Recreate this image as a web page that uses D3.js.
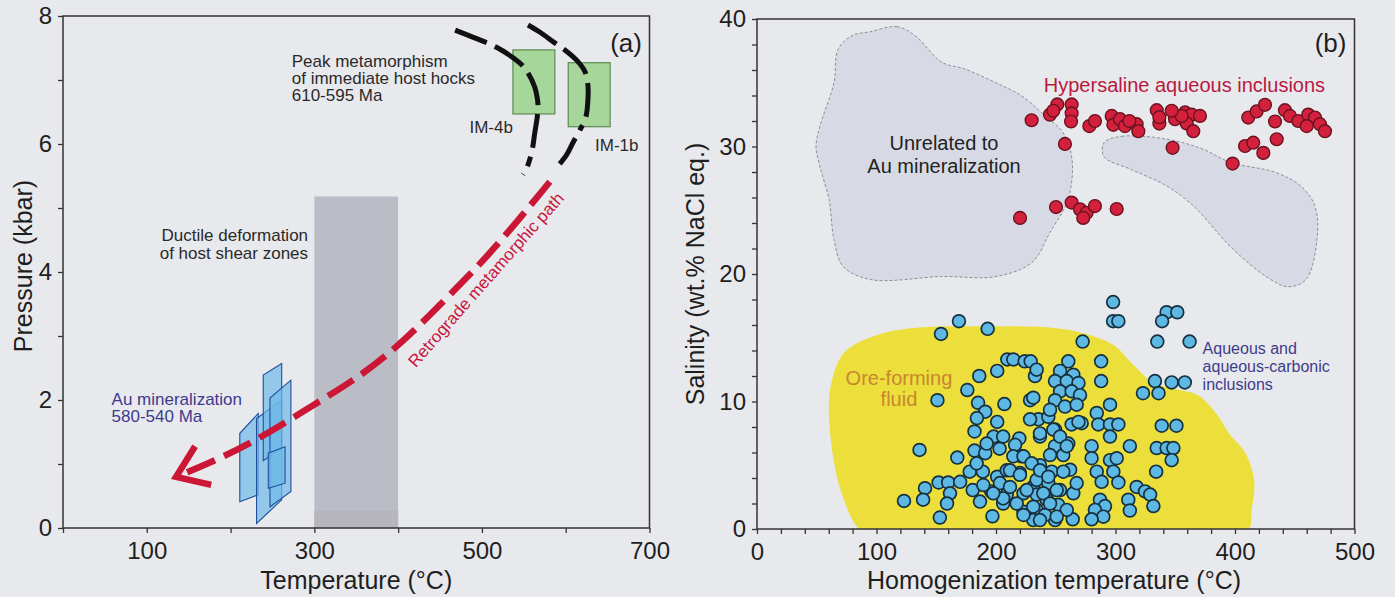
<!DOCTYPE html>
<html>
<head>
<meta charset="utf-8">
<script src="https://cdn.jsdelivr.net/npm/d3@7"></script>
<style>
  html, body { margin: 0; padding: 0; background: #e8e9ed; }
  svg { display: block; }
  text { font-family: "Liberation Sans", Arial, Helvetica, sans-serif; }
</style>
</head>
<body>
<svg id="fig" width="1395" height="597"></svg>
<script>
// ---------- Panel (a): P–T path ----------
const aLabelsX = [100, 300, 500, 700];
const aLabelsY = [0, 2, 4, 6, 8];

// ductile deformation window (°C, kbar)
const ductileT = [300, 400];
const ductileP = [0, 5.18];

// peak metamorphism boxes: [name, Tmin, Tmax, Pmin, Pmax]
const peakBoxes = [
  ["IM-4b", 537, 587, 6.47, 7.47],
  ["IM-1b", 603, 653, 6.27, 7.27]
];

// retrograde isobaric cooling curves through the peak boxes
const curveIM4b = [[468,7.78],[489,7.67],[506,7.58],[519,7.5],[536,7.36],[548,7.23],[555,7.11],[563,6.89],[566,6.72],[567,6.58],[566,6.42],[563,6.17],[560,5.91],[554,5.64],[549,5.52]];
const curveIM1b = [[555,7.86],[569,7.75],[587,7.58],[599,7.47],[613,7.31],[623,7.13],[626.5,6.92],[626.5,6.69],[624,6.42],[617,6.22],[608.6,6.02],[601,5.83],[591,5.66]];

// retrograde metamorphic path (°C, kbar)
const retroPath = [[581,5.41],[536,4.69],[495,4.08],[450,3.49],[404.5,2.89],[355,2.37],[300,1.93],[240,1.44],[190,1.1],[135,0.80]];

// Au mineralization P–T fields (parallelograms)
const auFields = [
  [[211,0.41],[211,1.48],[233,1.79],[233,0.52]],
  [[231,0.07],[231,1.71],[261,2.0],[261,0.44]],
  [[239,1.05],[239,2.39],[261,2.57],[261,1.25]],
  [[247,0.33],[247,2.03],[272,2.31],[272,0.57]],
  [[245,0.62],[245,1.17],[265,1.27],[265,0.70]]
];

// ---------- Panel (b): fluid inclusion data ----------
const bLabelsX = [0, 100, 200, 300, 400, 500];
const bLabelsY = [0, 10, 20, 30, 40];

// aqueous and aqueous-carbonic inclusions: [Th °C, salinity wt.% NaCl eq.]
const aqueousTh = [
  169,154,193,186,201,209.5,214.5,224,229,176,151,185,207,228.5,191,184,201,182,198,206,219.5,136,167.6,182,191,203,216,221.5,
  178,189,201,209,220,152,140.6,160,170,161.5,180.5,196,209,223,123,139,159,186.6,206,153,197,223,231,231,232.6,
  298,298,302.4,342.8,351.7,339,335,362,272.5,288,288,333,347,358,323,336,295.4,284.3,285.6,295.4,302.4,295.4,271.7,263.3,
  312,338.7,351,280,280,295.4,301,334.5,342.8,348.4,347,284.3,298.2,288.4,302.4,334,317.7,324.7,329,331.7,310.7,312,287,
  291.2,282.8,289.8,280,264.2,249.4,264.7,267.5,262,260.5,269,249.4,249.4,236.8,235.4,243.8,
  260.5,253.6,264.7,249.4,259.2,269,253.6,263.3,270.3,249.4,257.7,267.5,245.2,234,231.2,228.5,
  245.2,256.3,236.8,246.6,256.3,234,243.8,253.6,234,242.4,252,234,241,259.2,231.2,
  214.5,223,229.8,211.7,220,236.8,243.8,203.3,211.7,225.7,239.6,250.8,206,217.3,231.2,245.2,223,236.8,250.8,197.7,189.4,183.8,192.2,236.8,248,253.6,259.2
];
const aqueousSal = [
  16.3,15.3,15.7,12.0,12.4,13.3,13.3,13.15,13.15,10.9,10.1,9.9,9.8,10.1,9.2,8.7,8.4,7.65,7.25,7.25,7.1,6.2,5.6,6.15,5.95,6.3,6.6,5.7,
  4.5,4.5,4.1,4.6,4.4,3.65,3.2,3.65,3.7,2.8,3.05,2.95,2.7,2.8,2.2,2.3,2.0,2.15,2.0,0.9,1.0,1.35,0.97,3.3,12.0,
  17.8,16.3,16.3,17.0,17.0,16.3,14.7,14.7,14.7,13.15,11.6,11.6,11.5,11.5,10.65,10.65,9.75,9.1,8.2,8.2,8.2,7.25,8.3,8.2,
  6.5,8.1,8.1,6.5,5.55,5.4,5.55,6.35,6.35,6.35,5.4,4.5,4.5,3.7,3.65,4.5,3.3,2.95,2.7,1.8,2.3,1.45,2.3,
  1.8,1.5,0.97,0.76,0.76,0.7,2.8,3.6,4.65,6.7,8.4,7.8,6.5,7.25,8.6,8.8,
  13.15,12.4,12.1,11.6,11.6,11.45,10.8,10.8,10.5,10.1,9.6,9.75,9.35,12.5,10.3,8.6,
  5.8,5.8,5.0,4.5,4.5,3.85,3.6,3.05,2.7,2.3,1.9,1.5,1.1,1.5,0.7,
  5.7,5.7,5.15,4.6,4.25,4.6,4.1,3.6,3.3,3.05,2.8,3.05,2.4,2.0,1.75,2.0,1.1,0.7,0.97,2.8,3.45,5.15,6.7,7.5,7.8,7.25,6.5
];

// hypersaline aqueous inclusions
const hyperTh = [
  229.8,245.2,251.3,248,263.3,263.3,262.8,257.7,278.1,282.8,296.8,298.2,303.8,307.9,317.7,319.1,334.5,336.7,347.8,349.8,
  358.2,363.7,370.7,359.6,365.1,355.4,398,411.1,418.1,425.1,408.4,415.3,423.7,434.9,433.5,441.8,446,453,461.3,466.9,
  460,471.1,475.3,220.1,250.2,263.3,270.3,275.9,282.8,273,301,347,336.7,311.6
];
const hyperSal = [
  32.06,32.5,33.3,32.8,33.3,32.6,31.96,30.2,31.6,32.0,32.4,31.7,32.14,31.6,31.75,31.2,32.85,31.8,29.9,32.14,
  32.67,32.5,32.4,31.8,31.2,32.4,28.66,32.27,32.75,33.27,30.04,30.3,29.5,30.57,31.96,32.85,32.4,32.0,32.5,32.27,
  31.6,31.75,31.2,24.4,25.25,25.6,25.07,24.8,25.33,24.4,25.1,32.8,32.3,32.0
];

// outlines of fluid fields (Th °C, salinity)
const oreFluidField = [[92.6,-0.5],[72,2.5],[60.3,8.6],[62.8,11.7],[73.6,13.9],[102,15.25],[135.6,15.8],[185,15.9],[245,15.8],[271,15.4],[298,14.46],[314.6,12.9],[331.4,11.5],[354,10.9],[369,10.5],[384,9.1],[395,7.5],[408.4,6.0],[416,3.85],[414.2,1.7],[408.4,-0.5],[250,-0.8]];
const unrelatedField1 = [[94.6,39.0],[117.2,39.4],[132.2,38.7],[154.8,36.6],[173.2,36.1],[200,35.0],[222.6,33.9],[241,32.4],[256,31.1],[263.6,29.0],[260.3,25.85],[245.2,23.26],[230,20.9],[200,19.8],[154.8,19.8],[94.6,19.57],[72,20.6],[64.4,22.7],[60.3,25.85],[52.7,28.4],[49.4,30.0],[52.7,31.6],[64.4,35.0],[67.8,37.6],[79.5,38.7]];
const unrelatedField2 = [[290.4,30.3],[305.4,30.8],[343,30.57],[373,29.8],[396,28.76],[433.5,27.98],[455,26.9],[467,25.3],[468.6,22.7],[459.4,19.57],[444.4,19.0],[426,19.8],[396,22.16],[365.7,25.3],[343,26.9],[313,28.2],[290.4,29.2]];

// ---------- layout ----------
const svg = d3.select("#fig");
const xA = d3.scaleLinear().domain([0, 700]).range([63, 649.5]);
const yA = d3.scaleLinear().domain([0, 8]).range([528, 16]);
const xB = d3.scaleLinear().domain([0, 500]).range([757, 1354.5]);
const yB = d3.scaleLinear().domain([0, 40]).range([529, 19]);

const defs = svg.append("defs");
defs.append("clipPath").attr("id", "clipA").append("rect")
  .attr("x", xA(0)).attr("y", yA(8)).attr("width", xA(700) - xA(0)).attr("height", yA(0) - yA(8));
defs.append("clipPath").attr("id", "clipB").append("rect")
  .attr("x", xB(0)).attr("y", yB(40)).attr("width", xB(500) - xB(0)).attr("height", yB(0) - yB(40));

function axes(g, x, y, xTicks, xLabels, yTicks, yLabels) {
  const gx = g.append("g").attr("transform", `translate(0,${y.range()[0]})`)
    .call(d3.axisBottom(x).tickValues(xTicks).tickSize(5).tickPadding(9)
      .tickFormat(d => xLabels.includes(d) ? d : ""));
  const gy = g.append("g").attr("transform", `translate(${x.range()[0]},0)`)
    .call(d3.axisLeft(y).tickValues(yTicks).tickSize(5).tickPadding(6)
      .tickFormat(d => yLabels.includes(d) ? d : ""));
  [gx, gy].forEach(a => {
    a.select(".domain").remove();
    a.selectAll(".tick line").attr("stroke", "#333").attr("stroke-width", 1.3);
    a.selectAll(".tick text").attr("fill", "#1e1e1e").attr("font-size", 24)
      .attr("font-family", "'Liberation Sans', Arial, sans-serif");
  });
  g.append("rect")
    .attr("x", x.range()[0]).attr("y", y.range()[1])
    .attr("width", x.range()[1] - x.range()[0]).attr("height", y.range()[0] - y.range()[1])
    .attr("fill", "none").attr("stroke", "#333").attr("stroke-width", 1.5);
}

// ================= Panel (a) =================
const gA = svg.append("g");
const plotA = gA.append("g").attr("clip-path", "url(#clipA)");

plotA.append("rect")
  .attr("x", xA(ductileT[0])).attr("y", yA(ductileP[1]))
  .attr("width", xA(ductileT[1]) - xA(ductileT[0])).attr("height", yA(ductileP[0]) - yA(ductileP[1]))
  .attr("fill", "#babdc5");
plotA.append("rect")
  .attr("x", xA(ductileT[0])).attr("y", yA(0.27))
  .attr("width", xA(ductileT[1]) - xA(ductileT[0])).attr("height", yA(0) - yA(0.27))
  .attr("fill", "#b7b6be");

plotA.selectAll("rect.peak").data(peakBoxes).join("rect").attr("class", "peak")
  .attr("x", d => xA(d[1])).attr("y", d => yA(d[4]))
  .attr("width", d => xA(d[2]) - xA(d[1])).attr("height", d => yA(d[3]) - yA(d[4]))
  .attr("fill", "#a7d69b").attr("stroke", "#5b8a52").attr("stroke-width", 1.2);

const lineA = d3.line().x(d => xA(d[0])).y(d => yA(d[1])).curve(d3.curveCatmullRom);
plotA.append("path").attr("d", lineA(curveIM4b))
  .attr("fill", "none").attr("stroke", "#111").attr("stroke-width", 5)
  .attr("stroke-dasharray", "34,9,34,9,34,9,34,9,10,9");
plotA.append("path").attr("d", lineA(curveIM1b))
  .attr("fill", "none").attr("stroke", "#111").attr("stroke-width", 5)
  .attr("stroke-dasharray", "34,9,34,9,34,9,6,9,30,9,5,9");

plotA.selectAll("path.au").data(auFields).join("path").attr("class", "au")
  .attr("d", d => "M" + d.map(p => [xA(p[0]), yA(p[1])].join(",")).join("L") + "Z")
  .attr("fill", "#6fb9e8").attr("fill-opacity", 0.7)
  .attr("stroke", "#1f4f9c").attr("stroke-width", 1.1);

const smoothA = d3.line().x(d => xA(d[0])).y(d => yA(d[1])).curve(d3.curveBasis);
plotA.append("path").attr("d", smoothA(retroPath))
  .attr("fill", "none").attr("stroke", "#cc1636").attr("stroke-width", 6.5)
  .attr("stroke-dasharray", "30,10");

// arrow head at the low-temperature end
{
  const n = retroPath.length;
  const tip = [xA(retroPath[n - 1][0]), yA(retroPath[n - 1][1])];
  const prev = [xA(retroPath[n - 2][0]), yA(retroPath[n - 2][1])];
  const back = Math.atan2(prev[1] - tip[1], prev[0] - tip[0]);
  const len = 36, spread = 0.62;
  const p1 = [tip[0] + len * Math.cos(back - spread), tip[1] + len * Math.sin(back - spread)];
  const p2 = [tip[0] + len * Math.cos(back + spread), tip[1] + len * Math.sin(back + spread)];
  plotA.append("path").attr("d", `M${p1}L${tip}L${p2}`)
    .attr("fill", "none").attr("stroke", "#cc1636").attr("stroke-width", 6.5)
    .attr("stroke-linejoin", "miter");
}

axes(gA, xA, yA, d3.range(0, 701, 100), aLabelsX, d3.range(0, 9, 1), aLabelsY);

// annotations (a)
function multiline(g, x, y, lines, opts) {
  const t = g.append("text").attr("x", x).attr("y", y)
    .attr("font-size", opts.size).attr("fill", opts.color)
    .attr("text-anchor", opts.anchor || "start");
  lines.forEach((s, i) => t.append("tspan").attr("x", x).attr("dy", i ? opts.lh : 0).text(s));
  return t;
}
multiline(gA, xA(273), yA(7.2), ["Peak metamorphism", "of immediate host hocks", "610-595 Ma"],
  { size: 17, color: "#2a2a2a", lh: 17 });
gA.append("text").attr("x", xA(537)).attr("y", yA(6.17)).attr("text-anchor", "end")
  .attr("font-size", 17).attr("fill", "#2a2a2a").text("IM-4b");
gA.append("text").attr("x", xA(635)).attr("y", yA(5.89))
  .attr("font-size", 17).attr("fill", "#2a2a2a").text("IM-1b");
gA.append("text").attr("x", xA(672)).attr("y", yA(7.44)).attr("text-anchor", "middle")
  .attr("font-size", 26).attr("fill", "#1e1e1e").text("(a)");
multiline(gA, xA(292.5), yA(4.48), ["Ductile deformation", "of host shear zones"],
  { size: 17, color: "#2a2a2a", lh: 18, anchor: "end" });
multiline(gA, xA(58), yA(1.92), ["Au mineralization", "580-540 Ma"],
  { size: 17, color: "#3c3a8e", lh: 17 });
gA.append("text")
  .attr("transform", `translate(${xA(510)},${yA(3.82)}) rotate(-48.6)`)
  .attr("text-anchor", "middle").attr("font-size", 17).attr("fill", "#c8143a")
  .text("Retrograde metamorphic path");

gA.append("text").attr("x", (xA(0) + xA(700)) / 2 + 0).attr("y", 589)
  .attr("text-anchor", "middle").attr("font-size", 25).attr("fill", "#1e1e1e")
  .text("Temperature (°C)");
gA.append("text").attr("transform", `translate(32,${(yA(0) + yA(8)) / 2 - 6}) rotate(-90)`)
  .attr("text-anchor", "middle").attr("font-size", 25).attr("fill", "#1e1e1e")
  .text("Pressure (kbar)");

// ================= Panel (b) =================
const gB = svg.append("g");
const plotB = gB.append("g").attr("clip-path", "url(#clipB)");
const areaB = d3.line().x(d => xB(d[0])).y(d => yB(d[1])).curve(d3.curveCatmullRomClosed);

[unrelatedField1, unrelatedField2].forEach(f => {
  plotB.append("path").attr("d", areaB(f))
    .attr("fill", "#d7dae4").attr("stroke", "#8c8e94").attr("stroke-width", 1)
    .attr("stroke-dasharray", "3,2");
});
plotB.append("path").attr("d", areaB(oreFluidField)).attr("fill", "#ecdf3c");

const hyper = hyperTh.map((t, i) => [t, hyperSal[i]]);
plotB.selectAll("circle.hyper").data(hyper).join("circle").attr("class", "hyper")
  .attr("cx", d => xB(d[0])).attr("cy", d => yB(d[1])).attr("r", 6.4)
  .attr("fill", "#d3203c").attr("stroke", "#6b1220").attr("stroke-width", 1.4);

const aqueous = aqueousTh.map((t, i) => [t, aqueousSal[i]]);
plotB.selectAll("circle.aq").data(aqueous).join("circle").attr("class", "aq")
  .attr("cx", d => xB(d[0])).attr("cy", d => yB(d[1])).attr("r", 6.4)
  .attr("fill", "#5db8e3").attr("stroke", "#16303f").attr("stroke-width", 1.7);

axes(gB, xB, yB, d3.range(0, 501, 20), bLabelsX, d3.range(0, 41, 2), bLabelsY);

gB.append("text").attr("x", xB(480)).attr("y", yB(37.45)).attr("text-anchor", "middle")
  .attr("font-size", 26).attr("fill", "#1e1e1e").text("(b)");
gB.append("text").attr("x", xB(357.7)).attr("y", yB(34.27)).attr("text-anchor", "middle")
  .attr("font-size", 20).attr("fill", "#b81a3e").text("Hypersaline aqueous inclusions");
multiline(gB, xB(156.5), yB(29.7), ["Unrelated to", "Au mineralization"],
  { size: 20, color: "#222", lh: 23, anchor: "middle" });
multiline(gB, xB(118.8), yB(11.3), ["Ore-forming", "fluid"],
  { size: 20, color: "#c8862e", lh: 21, anchor: "middle" });
multiline(gB, xB(372.9), yB(13.75), ["Aqueous and", "aqueous-carbonic", "inclusions"],
  { size: 16, color: "#3e3c8c", lh: 18 });

gB.append("text").attr("x", 1054).attr("y", 589)
  .attr("text-anchor", "middle").attr("font-size", 25).attr("fill", "#1e1e1e")
  .text("Homogenization temperature (°C)");
gB.append("text").attr("transform", `translate(704,${(yB(0) + yB(40)) / 2}) rotate(-90)`)
  .attr("text-anchor", "middle").attr("font-size", 25).attr("fill", "#1e1e1e")
  .text("Salinity (wt.% NaCl eq.)");
</script>
</body>
</html>
